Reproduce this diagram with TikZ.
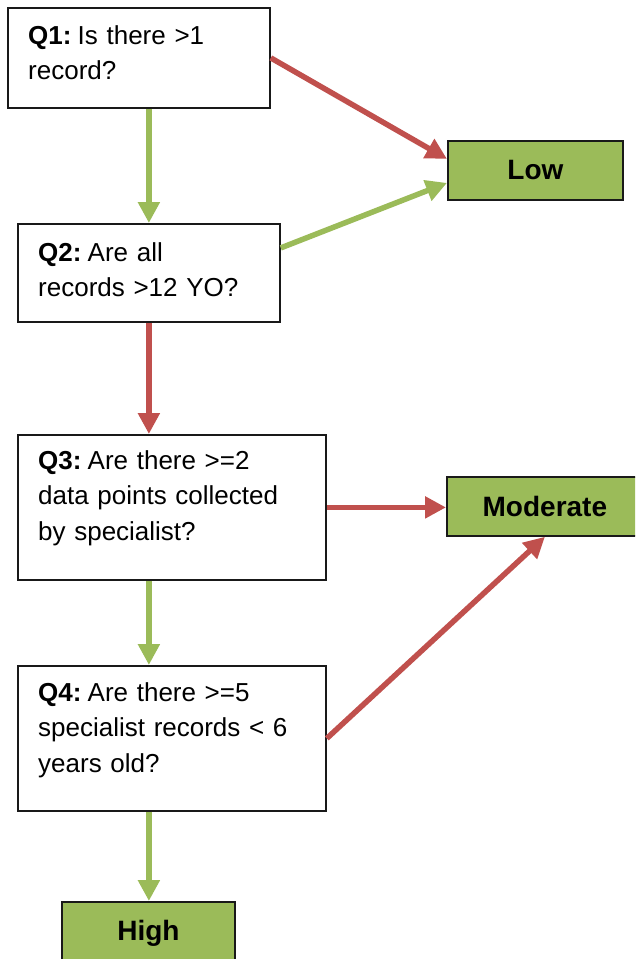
\documentclass[tikz,border=0pt]{standalone}
\usepackage{fontspec}
\setmainfont{Liberation Sans}
\usetikzlibrary{arrows.meta}
\definecolor{okgreen}{HTML}{9BBB59}
\definecolor{nored}{HTML}{C0504D}
% bold question tag with a tight following space
\newcommand{\qtag}[1]{\textbf{#1}\kern-2.5pt\ }
\begin{document}
\begin{tikzpicture}[x=1pt,y=-1pt,
  qbox/.style={draw=black!90, line width=1.8pt, fill=white, inner sep=0pt, anchor=north west},
  rbox/.style={draw=black!90, line width=1.8pt, fill=okgreen, inner sep=0pt, anchor=north west,
               font=\fontsize{28}{34}\selectfont\bfseries},
  qtext/.style={anchor=north west, inner sep=0pt, text width=290pt, align=left,
                font=\fontsize{26}{35.5}\selectfont},
  yes/.style={draw=okgreen, line width=5.5pt, -{Triangle[length=21pt,width=21pt]}},
  no/.style={draw=nored, line width=5.5pt, -{Triangle[length=21pt,width=21pt]}}]
\useasboundingbox (0,0) rectangle (635,959);
\clip (0,0) rectangle (635,959);

% question boxes
\node[qbox, minimum width=262pt, minimum height=100pt] (q1) at (7,7) {};
\node[qbox, minimum width=262pt, minimum height=98pt] (q2) at (17,223) {};
\node[qbox, minimum width=308pt, minimum height=145pt] (q3) at (17,434) {};
\node[qbox, minimum width=308pt, minimum height=145pt] (q4) at (17,665) {};

\node[qtext] (q1t) at (28,25) {\qtag{Q1:}Is there >1\\record?};
\node[qtext] (q2t) at (38,242) {\qtag{Q2:}Are all\\records >12 YO?};
\node[qtext] (q3t) at (38,450) {\qtag{Q3:}Are there >=2\\data points collected\\by specialist?};
\node[qtext] (q4t) at (38,682) {\qtag{Q4:}Are there >=5\\specialist records < 6\\years old?};

% outcome boxes
\node[rbox, minimum width=175pt, minimum height=59pt] (low) at (447,140) {Low};
\node[rbox, minimum width=196pt, minimum height=59pt] (mod) at (446,476) {Moderate};
\node[rbox, minimum width=173pt, minimum height=62pt] (high) at (61,901) {High};

% connectors
\draw[yes] (q2.north |- q1.south) -- (q2.north);
\draw[no] (q1.east) -- ([yshift=11.5pt]low.west);
\draw[yes] ([yshift=25pt]q2.east) -- ([yshift=-12.5pt]low.west);
\draw[no] (q2.south) -- (q2.south |- q3.north);
\draw[no] (q3.east) -- (q3.east -| mod.west);
\draw[yes] (q2.south |- q3.south) -- (q2.south |- q4.north);
\draw[no] (q4.east) -- (mod.south);
\draw[yes] (q2.south |- q4.south) -- (q2.south |- high.north);
\end{tikzpicture}
\end{document}
